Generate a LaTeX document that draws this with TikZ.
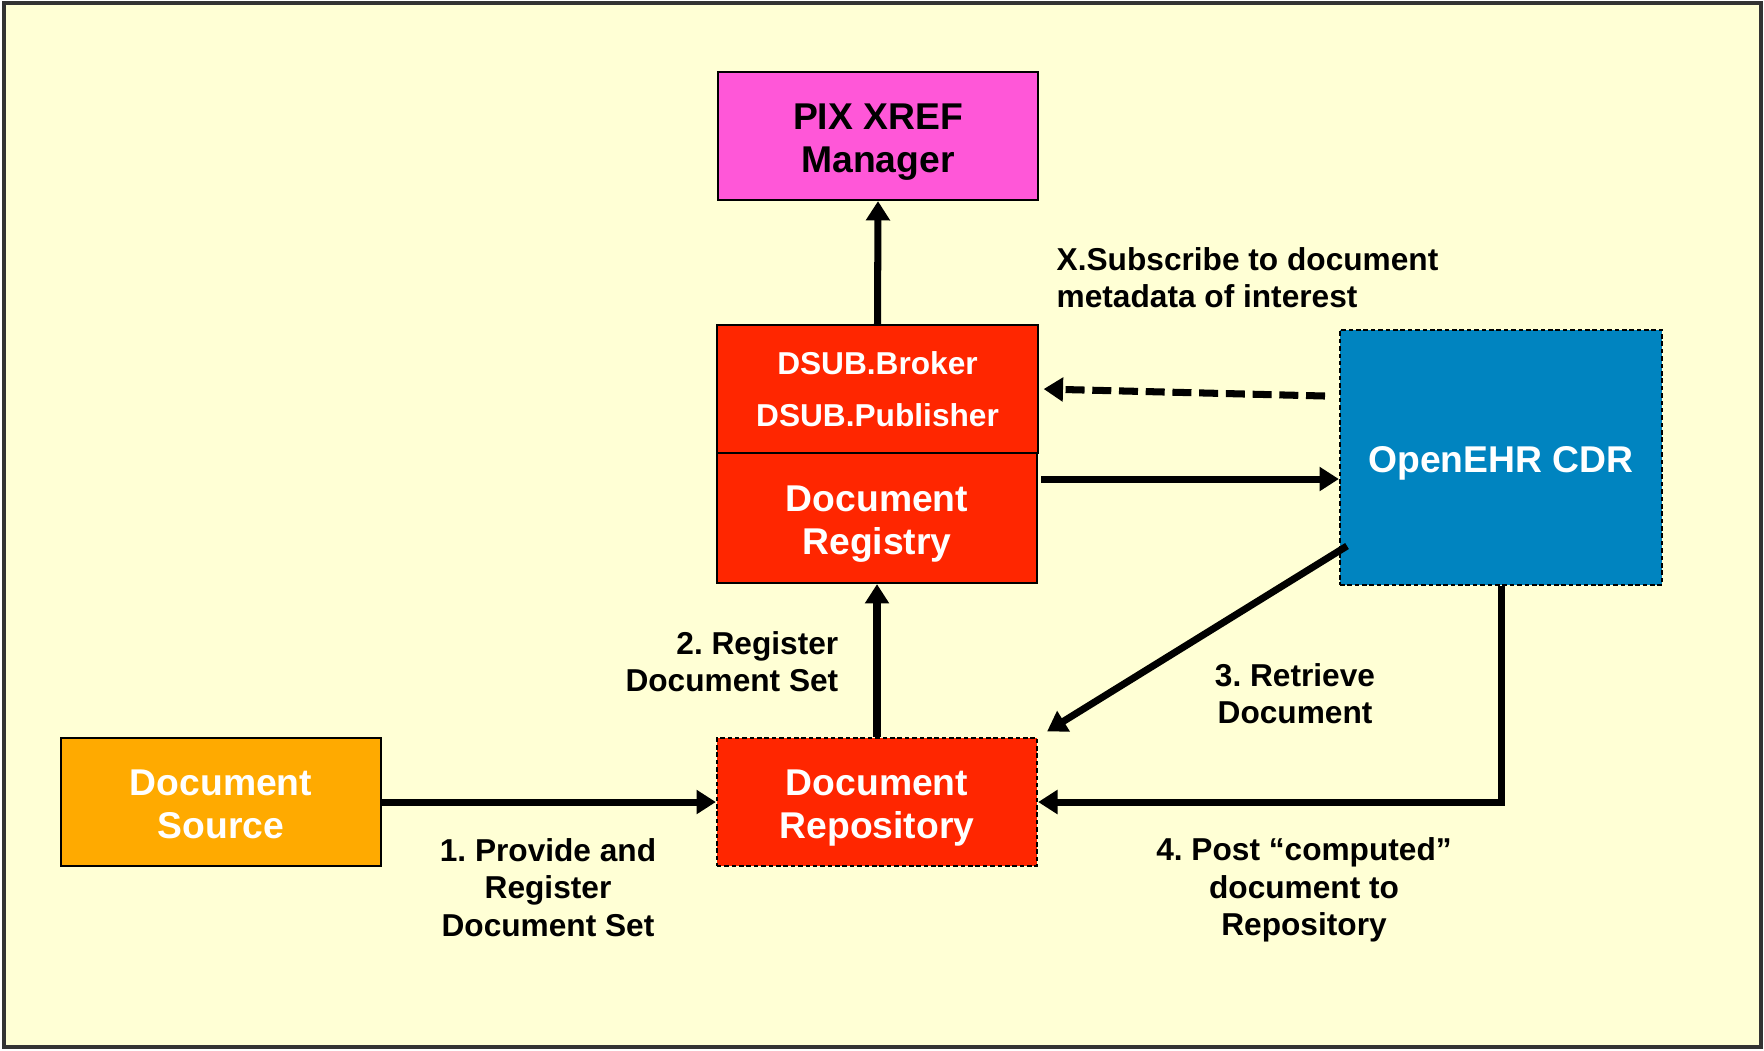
\documentclass[tikz,border=0pt]{standalone}
\usepackage{fontspec}
\setmainfont{Liberation Sans}
\usepackage{tikz}
\usetikzlibrary{arrows.meta,calc}
\frenchspacing
\definecolor{paperBg}{RGB}{255,255,213}
\definecolor{pixPink}{RGB}{255,87,216}
\definecolor{ihoRed}{RGB}{255,38,0}
\definecolor{srcOrange}{RGB}{255,170,0}
\definecolor{cdrBlue}{RGB}{0,132,192}
\newcommand{\boxLines}[1]{\raisebox{-1.7pt}[\height][\depth]{\begin{tabular}{@{}c@{}}#1\end{tabular}}}
\tikzset{flowFig/.style={x=0.01cm,y=-0.01cm},
         actorBox/.style={draw=black,line width=0.6pt,minimum width=3.2cm,minimum height=1.28cm,
                    inner sep=0pt,align=center,text=white,font=\fontsize{10.6}{12.2}\selectfont\bfseries},
         dashBox/.style={actorBox,dash pattern=on 1.3pt off 0.8pt},
         stepLabel/.style={inner sep=0pt,font=\fontsize{9}{10.6}\selectfont\bfseries},
         flow/.style={-{Triangle[length=5.5pt,width=6.6pt]},line width=2pt},
         flowDash/.style={flow,dash pattern=on 5.4pt off 2.2pt}}

\begin{document}
\begin{tikzpicture}[flowFig]
			\useasboundingbox (0,0) rectangle (1764,1050);
			\draw [line width=1pt,draw=black!80,fill=paperBg] (4,3) rectangle (1761,1047);
			%SERVICES
			\node [actorBox,fill=pixPink,text=black] (pix) at (878,136) {\boxLines{PIX XREF\\Manager}};
			\node [actorBox,fill=ihoRed,font=\fontsize{9}{14.7}\selectfont\bfseries] (dsub) at (877.5,389) {DSUB.Broker\\DSUB.Publisher};
			\node [actorBox,fill=ihoRed,minimum height=1.3cm] (reg) at (877,518) {\boxLines{Document\\Registry}};
			\node [dashBox,fill=ihoRed] (repo) at (877,802) {\boxLines{Document\\Repository}};
			\node [actorBox,fill=srcOrange] (src) at (221,802) {\boxLines{Document\\Source}};
			\node [dashBox,fill=cdrBlue,minimum width=3.22cm,minimum height=2.55cm] (cdr) at (1501,457.5) {\boxLines{OpenEHR CDR}};
			%FREE ENDS
			\coordinate (subStart) at (1325,396);
			\coordinate (regOut) at (1041,479);
			\coordinate (retStart) at (1347,546);
			%LABELS
			\node [stepLabel,anchor=west,align=left] (lblSub) at (1056,277.5) {X.Subscribe to document\\metadata of interest};
			\node [stepLabel,anchor=east,align=right] (lblReg) at (839,662) {2. Register\\Document Set};
			\node [stepLabel,align=center] (lblRet) at (1295,693.5) {3. Retrieve\\Document};
			\node [stepLabel,align=center] (lblProv) at (548,887.5) {1. Provide and\\Register\\Document Set};
			\node [stepLabel,align=center] (lblPost) at (1304,890) {4. Post “computed”\\document to\\Repository};

			%
			\path
			(dsub.north) edge [flow] (pix.south)
			(subStart) edge [flowDash] ([xshift=0.05cm]dsub.east)
			(regOut) edge [flow] (regOut -| cdr.west)
			(repo.north) edge [flow] (reg.south)
			(retStart) edge [flow,shorten >=3pt] (repo.north east)
			(src.east) edge [flow] (repo.west)
			;
			\draw [flow] (cdr.south) |- (repo.east);
		\end{tikzpicture}
\end{document}
